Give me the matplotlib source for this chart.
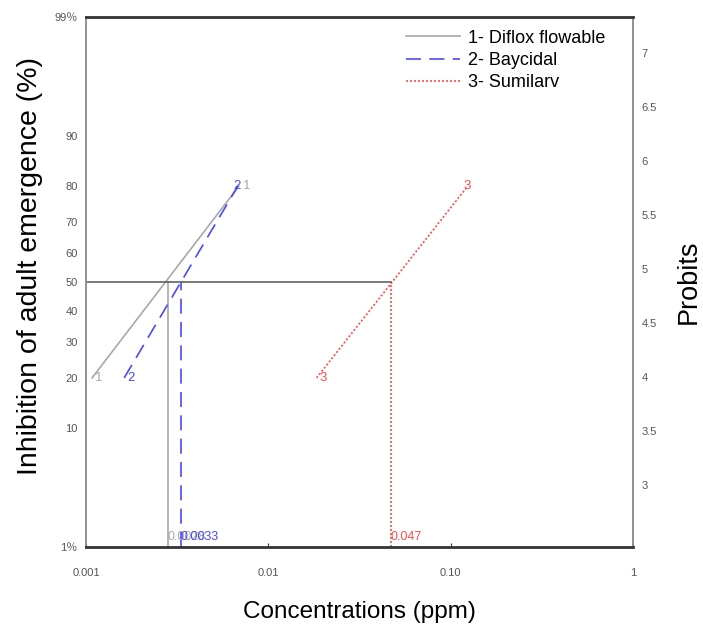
import matplotlib
matplotlib.use("Agg")
import matplotlib.pyplot as plt
import numpy as np
from statistics import NormalDist

plt.rcParams['font.family'] = ['Liberation Sans', 'Noto Sans CJK JP', 'DejaVu Sans']

# ---- data ----
names = ["1- Diflox flowable", "2- Baycidal", "3- Sumilarv"]
ids = ["1", "2", "3"]
conc_low = [0.00108, 0.00162, 0.0184]      # conc at 20% inhibition
conc_high = [0.0069, 0.0068, 0.124]        # conc at 80% inhibition
pct_low = 20
pct_high = 80
lc50 = [0.0028, 0.0033, 0.047]
lc50_labels = ["0.0028", "0.0033", "0.047"]
colors = ["#a8a8a8", "#4a4af0", "#ff4b4b"]
styles = ["-", (0, (9, 5)), (0, (1.2, 1.2))]

left_ticks = [1, 10, 20, 30, 40, 50, 60, 70, 80, 90, 99]
left_ticklabels = ["1\uff05", "10", "20", "30", "40", "50", "60", "70", "80", "90", "99\uff05"]
x_ticks = [0.001, 0.01, 0.1, 1]
x_ticklabels = ["0.001", "0.01", "0.10", "1"]
probit_ticks = [3, 3.5, 4, 4.5, 5, 5.5, 6, 6.5, 7]


def probit(p):
    return NormalDist().inv_cdf(p / 100.0) + 5


fig = plt.figure(figsize=(7.03, 6.27), dpi=100)
ax = fig.add_axes([86 / 703, 1 - 547 / 627, (633 - 86) / 703, (547 - 17) / 627])
ax.set_xscale('log')
ax.set_xlim(0.001, 1)
ax.set_ylim(probit(1), probit(99))

end_offsets = [6, 0, 0]   # pixel nudge so "2" and "1" sit side by side
for i in range(3):
    xs = [conc_low[i], conc_high[i]]
    ys = [probit(pct_low), probit(pct_high)]
    ax.plot(xs, ys, color=colors[i], linestyle=styles[i], lw=1.2, label=names[i])
    # vertical LC50 line
    ax.plot([lc50[i], lc50[i]], [probit(1), probit(50)], color=colors[i],
            linestyle=styles[i], lw=1.2)
    ax.annotate(ids[i], (conc_low[i], probit(pct_low)), xytext=(2, 0),
                textcoords='offset points', color=colors[i], fontsize=9.5,
                ha='left', va='center')
    ax.annotate(ids[i], (conc_high[i], probit(pct_high)), xytext=(-3 + end_offsets[i], 0),
                textcoords='offset points', color=colors[i], fontsize=9.5,
                ha='left', va='center')
    ax.annotate(lc50_labels[i], (lc50[i], probit(1)), xytext=(0, 3),
                textcoords='offset points', color=colors[i],
                fontsize=9, ha='left', va='bottom')

# horizontal 50% line
ax.plot([0.001, lc50[2]], [probit(50), probit(50)], color="#555555", lw=1.1)

ax.set_yticks([probit(v) for v in left_ticks])
ax.set_yticklabels(left_ticklabels)
ax.tick_params(axis='y', length=0, pad=6, labelsize=8, labelcolor="#555555")
ax.set_xticks(x_ticks)
ax.set_xticklabels(x_ticklabels)
ax.minorticks_off()
ax.tick_params(axis='x', direction='in', length=3, pad=15, labelsize=8,
               labelcolor="#555555", color="#333333")

for s in ['top', 'bottom']:
    ax.spines[s].set_linewidth(2)
    ax.spines[s].set_color("#333333")
for s in ['left', 'right']:
    ax.spines[s].set_linewidth(1.3)
    ax.spines[s].set_color("#888888")

ax.set_xlabel("Concentrations (ppm)", fontsize=17.5, labelpad=17)
ax.set_ylabel("Inhibition of adult emergence (%)", fontsize=20.5)
ax.yaxis.set_label_coords(-0.078, 0.53)

ax2 = ax.twinx()
ax2.set_ylim(2.426, 7.333)
ax2.set_yticks(probit_ticks)
ax2.set_yticklabels([f"{v:g}" for v in probit_ticks])
ax2.tick_params(axis='y', length=0, pad=6, labelsize=8, labelcolor="#555555")
for s in ax2.spines.values():
    s.set_visible(False)
ax2.set_ylabel("Probits", fontsize=19.5, labelpad=14)

leg = ax.legend(loc='upper left', bbox_to_anchor=(0.572, 0.99), frameon=False,
                fontsize=13, handlelength=3.0, labelspacing=0.3,
                handletextpad=0.45, borderaxespad=0)

fig.savefig("out.png", dpi=100)
